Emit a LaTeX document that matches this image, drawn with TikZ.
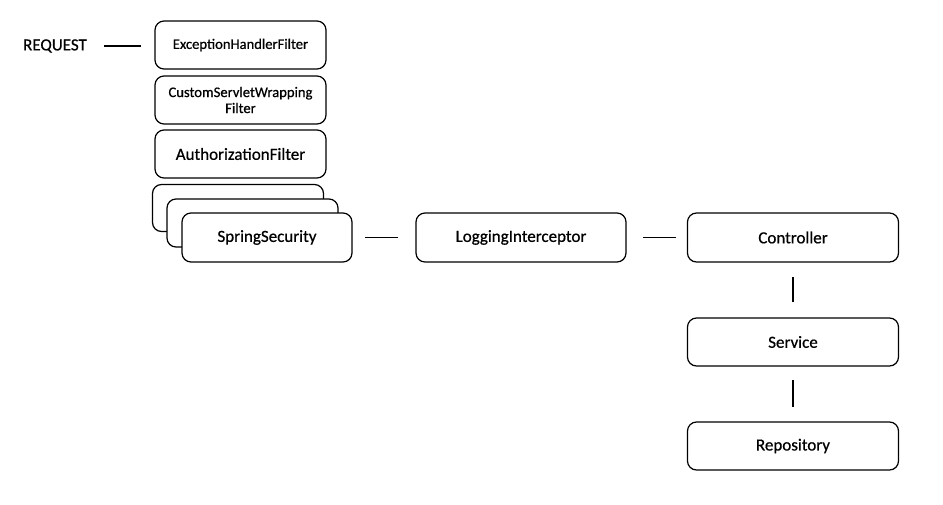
\documentclass[tikz,border=0pt]{standalone}
\usepackage{fontspec}
\setmainfont{Carlito}[BoldFont={Carlito},BoldFeatures={FakeBold=0.6}]
\begin{document}
\begin{tikzpicture}[x=1pt,y=-1pt,
  box/.style={draw=black, line width=1.2pt, rounded corners=9pt, fill=white,
    inner sep=0pt, outer sep=0pt, minimum height=48pt, align=center},
  conn/.style={draw=black, line width=1.8pt},
  small/.style={font=\bfseries\fontsize{14.6}{16}\selectfont},
  big/.style={font=\bfseries\fontsize{17}{19}\selectfont}]
\useasboundingbox (0,0) rectangle (943,504);
\node[big, inner sep=0pt] (req) at (55,46) {REQUEST};
\node[box, small, minimum width=171pt] (exc) at (240.5,45) {ExceptionHandlerFilter};
\node[box, small, minimum width=171pt] (cus) at (240.5,100) {CustomServletWrapping\\Filter};
\node[box, big, minimum width=171pt] (aut) at (240.5,154) {AuthorizationFilter};
\node[box, minimum width=171pt, minimum height=47pt] (bk1) at (238,208) {};
\node[box, minimum width=171pt] (bk2) at (252.5,223) {};
\node[box, big, minimum width=170pt, minimum height=49pt] (ss) at (267,237.5) {SpringSecurity};
\node[box, big, minimum width=210pt, minimum height=49pt] (li) at (521,237.5) {LoggingInterceptor};
\node[box, big, minimum width=211pt, minimum height=49pt] (ctl) at (793,237.5) {Controller};
\node[box, big, minimum width=211pt] (svc) at (793,342) {Service};
\node[box, big, minimum width=211pt] (rep) at (793,446) {Repository};
\draw[conn, shorten <=17pt, shorten >=14pt] (req.east) -- (req.east -| exc.west);
\draw[conn, shorten <=13pt, shorten >=18pt] (ss) -- (li);
\draw[conn, shorten <=17pt, shorten >=12pt] (li) -- (ctl);
\draw[conn, shorten <=15pt, shorten >=16pt] (ctl) -- (svc);
\draw[conn, shorten <=14pt, shorten >=15pt] (svc) -- (rep);
\end{tikzpicture}
\end{document}
